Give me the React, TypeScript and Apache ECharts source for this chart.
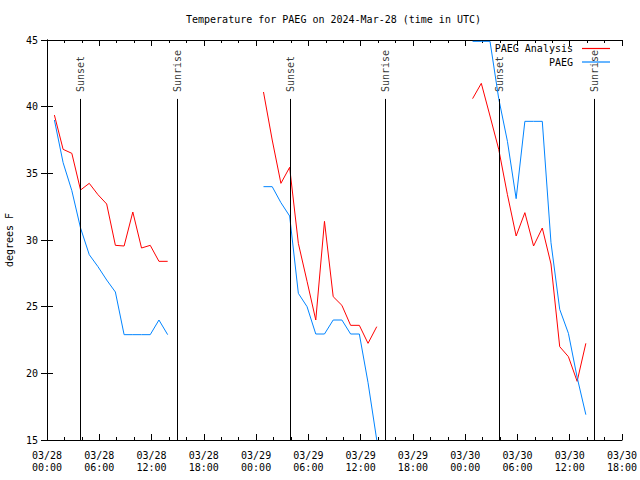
import React, { useEffect, useRef } from "react";
import * as echarts from "echarts";

// Hours after 03/28 00:00 UTC for each observation
const hoursDay1 = [0.85, 1.85, 2.85, 3.85, 4.85, 5.85, 6.85, 7.85, 8.85, 9.85, 10.85, 11.85, 12.85, 13.85];
const hoursDay2 = [24.85, 25.85, 26.85, 27.85, 28.85, 29.85, 30.85, 31.85, 32.85, 33.85, 34.85, 35.85, 36.85, 37.85];
const hoursDay3 = [48.85, 49.85, 50.85, 51.85, 52.85, 53.85, 54.85, 55.85, 56.85, 57.85, 58.85, 59.85, 60.85, 61.85];

// PAEG Analysis (red)
const analysisDay1 = [39.37, 36.8, 36.5, 33.75, 34.25, 33.4, 32.7, 29.6, 29.55, 32.1, 29.4, 29.6, 28.4, 28.4];
const analysisDay2 = [41.1, 37.5, 34.25, 35.45, 29.75, 26.9, 24.0, 31.4, 25.75, 25.1, 23.6, 23.6, 22.25, 23.5];
const analysisDay3 = [40.6, 41.75, 39.3, 36.8, 33.4, 30.3, 32.05, 29.55, 30.9, 28.2, 22.0, 21.25, 19.4, 22.25];

// PAEG observed (blue)
const obsDay1 = [39.0, 35.8, 33.7, 30.9, 28.9, 28.0, 27.0, 26.1, 22.9, 22.9, 22.9, 22.9, 24.0, 22.9];
const obsDay2 = [34.0, 34.0, 32.8, 31.8, 26.0, 25.0, 22.95, 22.95, 24.0, 24.0, 22.95, 22.95, 19.3, 15.0];
const obsDay3 = [44.9, 44.9, 44.9, 40.6, 37.4, 33.1, 38.9, 38.9, 38.9, 29.8, 24.8, 23.0, 19.7, 16.9];

const gapHours = [18, 42];

// Sunset / sunrise markers
const eventHours = [3.82, 14.96, 27.93, 38.83, 51.92, 62.82];
const eventNames = ["Sunset", "Sunrise", "Sunset", "Sunrise", "Sunset", "Sunrise"];

const xTickLabels = [
  "03/28\n00:00", "03/28\n06:00", "03/28\n12:00", "03/28\n18:00",
  "03/29\n00:00", "03/29\n06:00", "03/29\n12:00", "03/29\n18:00",
  "03/30\n00:00", "03/30\n06:00", "03/30\n12:00", "03/30\n18:00",
];

const MONO = "DejaVu Sans Mono";

function buildSeries(segs: number[][], times: number[][]) {
  const out: any[] = [];
  segs.forEach((vals, i) => {
    vals.forEach((v, j) => out.push([times[i][j], v]));
    if (i < gapHours.length) out.push([gapHours[i], null]);
  });
  return out;
}

export default function App() {
  const ref = useRef<HTMLDivElement>(null);
  useEffect(() => {
    if (!ref.current) return;
    const chart = echarts.init(ref.current, undefined, { renderer: "svg" });
    const times = [hoursDay1, hoursDay2, hoursDay3];
    const tickLen = 6;
    const xAxisBase = {
      type: "value",
      min: 0,
      max: 66,
      interval: 6,
      axisLine: { show: true, lineStyle: { color: "#000", width: 1 } },
      axisTick: { show: true, inside: true, length: tickLen, lineStyle: { color: "#000" } },
      minorTick: { show: true, splitNumber: 3, length: 3, lineStyle: { color: "#000" } },
      splitLine: { show: false },
    };
    const yAxisBase = {
      type: "value",
      min: 15,
      max: 45,
      interval: 5,
      axisLine: { show: true, lineStyle: { color: "#000", width: 1 } },
      axisTick: { show: true, inside: true, length: tickLen, lineStyle: { color: "#000" } },
      splitLine: { show: false },
    };
    const legendBase = {
      orient: "horizontal",
      align: "right",
      right: 30,
      padding: 0,
      icon: "rect",
      itemWidth: 28,
      itemHeight: 1.2,
      textStyle: { fontFamily: MONO, fontSize: 10, color: "#000", padding: [0, 4, 0, 0] },
    };
    chart.setOption({
      animation: false,
      backgroundColor: "#fff",
      title: {
        text: "Temperature for PAEG on 2024-Mar-28 (time in UTC)",
        left: 186,
        top: 14,
        padding: 0,
        textStyle: { fontFamily: MONO, fontSize: 10, fontWeight: "normal", color: "#000" },
      },
      legend: [
        { ...legendBase, data: ["PAEG Analysis"], top: 43.5 },
        { ...legendBase, data: ["PAEG"], top: 57 },
      ],
      grid: {
        left: 47,
        right: 18,
        top: 40,
        bottom: 40,
        show: false,
        containLabel: false,
        outerBoundsMode: "none",
      },
      xAxis: [
        {
          ...xAxisBase,
          position: "bottom",
          axisLabel: {
            show: true,
            margin: 9,
            fontFamily: MONO,
            fontSize: 10,
            color: "#000",
            lineHeight: 12,
            formatter: (v: number) => xTickLabels[Math.round(v / 6)] ?? "",
          },
        },
        { ...xAxisBase, position: "top", axisLabel: { show: false } },
      ],
      yAxis: [
        {
          ...yAxisBase,
          position: "left",
          name: "degrees F",
          nameLocation: "middle",
          nameGap: 33,
          nameTextStyle: { fontFamily: MONO, fontSize: 10, color: "#000" },
          axisLabel: { show: true, margin: 9, fontFamily: MONO, fontSize: 10, color: "#000" },
        },
        { ...yAxisBase, position: "right", axisLabel: { show: false } },
      ],
      series: [
        {
          name: "PAEG Analysis",
          type: "line",
          symbol: "none",
          color: "#ff0000",
          lineStyle: { width: 1, color: "#ff0000" },
          data: buildSeries([analysisDay1, analysisDay2, analysisDay3], times),
        },
        {
          name: "PAEG",
          type: "line",
          symbol: "none",
          color: "#0084ff",
          lineStyle: { width: 1, color: "#0084ff" },
          data: buildSeries([obsDay1, obsDay2, obsDay3], times),
        },
        {
          name: "events",
          type: "scatter",
          symbolSize: 0,
          silent: true,
          itemStyle: { color: "transparent" },
          data: eventHours.map((t, i) => [t, 41.1, eventNames[i]]),
          label: {
            show: true,
            position: [0, 0],
            rotate: 90,
            align: "left",
            verticalAlign: "middle",
            fontFamily: MONO,
            fontSize: 10,
            color: "#000",
            formatter: (p: any) => p.data[2],
          },
          markLine: {
            silent: true,
            symbol: "none",
            label: { show: false },
            lineStyle: { color: "#000", width: 1, type: "solid" },
            data: eventHours.map((t) => [{ coord: [t, 15] }, { coord: [t, 40.58] }]),
          },
        },
      ],
    });
    return () => chart.dispose();
  }, []);
  return (
    <div
      ref={ref}
      style={{ position: "fixed", left: 0, top: 0, width: 640, height: 480 }}
    />
  );
}
